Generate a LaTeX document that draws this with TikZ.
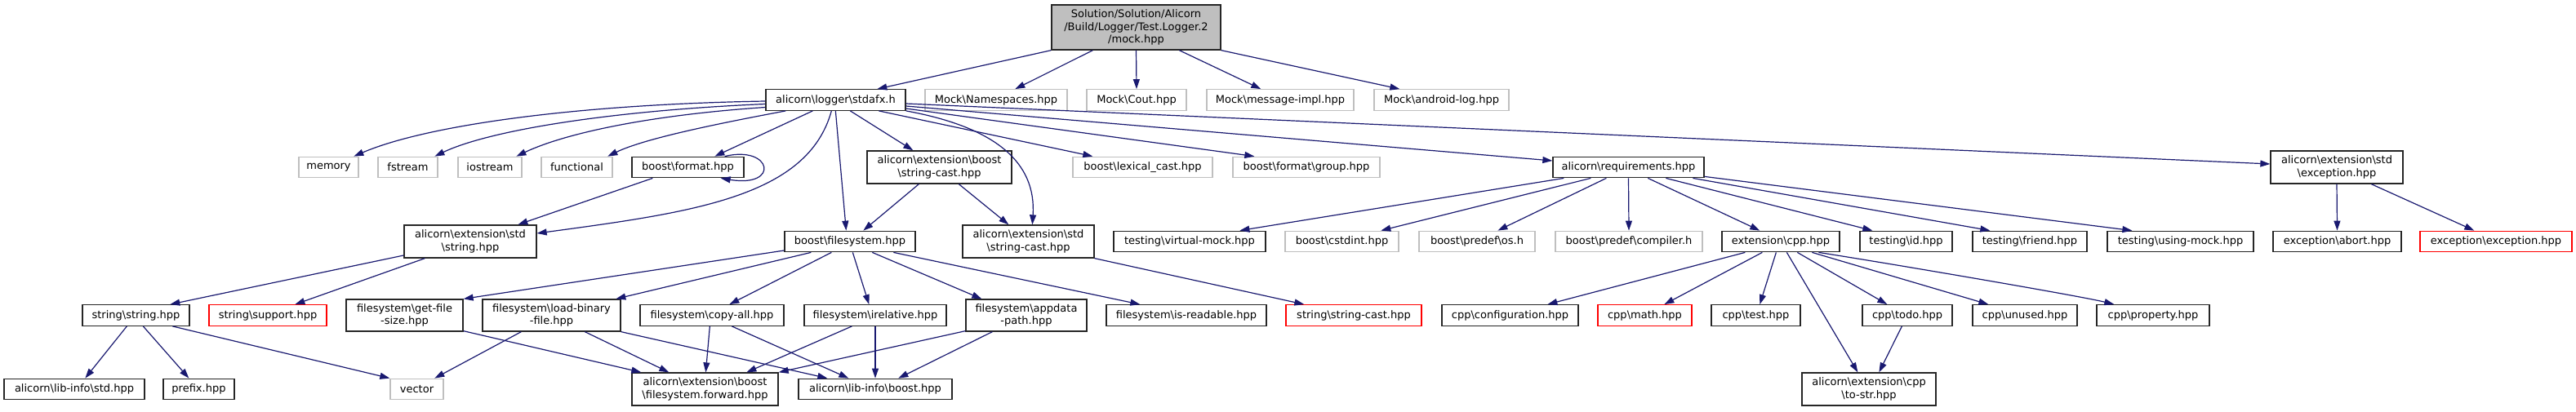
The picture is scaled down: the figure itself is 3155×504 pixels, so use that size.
\documentclass[tikz,border=0pt]{standalone}
\usepackage{fontspec}
\setmainfont{DejaVu Sans}
\usetikzlibrary{arrows.meta}
\definecolor{navy}{HTML}{191970}
\definecolor{boxgray}{HTML}{BFBFBF}
\definecolor{boxred}{HTML}{FF0000}
\newcommand\bsl{\textbackslash}
\newcommand\gfont{\fontsize{13}{15.3}\selectfont}
\tikzset{
  box/.style={draw=black!85, line width=1.3pt, inner sep=0pt, align=center, font=\gfont, minimum height=25.5pt},
  tbox/.style={box, minimum height=40pt},
  gbox/.style={box, draw=boxgray},
  rbox/.style={box, draw=boxred},
  edge/.style={draw=navy, line width=1.2pt, -{Triangle[length=12pt,width=8pt]}},
}
\begin{document}
\begin{tikzpicture}[x=1pt,y=-1pt]
\fill[white] (0,0) rectangle (3155,504);
\useasboundingbox (0,0) rectangle (3155,504);
% row A
\node[box, fill=boxgray, minimum width=207pt, minimum height=55pt] (root) at (1391.5,33.5) {Solution/Solution/Alicorn\\/Build/Logger/Test.Logger.2\\/mock.hpp};
% row B
\node[box, minimum width=171pt] (stdafx) at (1023.5,122.5) {alicorn\bsl logger\bsl stdafx.h};
\node[gbox, minimum width=174pt] (ns) at (1220,122.5) {Mock\bsl Namespaces.hpp};
\node[gbox, minimum width=122pt] (cout) at (1392,122.5) {Mock\bsl Cout.hpp};
\node[gbox, minimum width=180pt] (msg) at (1568,122.5) {Mock\bsl message-impl.hpp};
\node[gbox, minimum width=165pt] (andr) at (1765.5,122.5) {Mock\bsl android-log.hpp};
% row C
\node[gbox, minimum width=73pt] (memory) at (402.5,205) {memory};
\node[gbox, minimum width=73pt] (fstream) at (499.5,205) {fstream};
\node[gbox, minimum width=78pt] (iostream) at (600,205) {iostream};
\node[gbox, minimum width=87pt] (functional) at (706.5,205) {functional};
\node[box, minimum width=137pt] (bformat) at (842.5,205) {boost\bsl format.hpp};
\node[tbox, minimum width=177pt] (bsc) at (1150.5,205) {alicorn\bsl extension\bsl boost\\ \bsl string-cast.hpp};
\node[gbox, minimum width=171pt] (lexical) at (1399.5,205) {boost\bsl lexical\_cast.hpp};
\node[gbox, minimum width=180pt] (group) at (1600,205) {boost\bsl format\bsl group.hpp};
\node[box, minimum width=185pt] (req) at (1994.5,205) {alicorn\bsl requirements.hpp};
\node[tbox, minimum width=162pt] (stdexc) at (2862,205) {alicorn\bsl extension\bsl std\\ \bsl exception.hpp};
% row D
\node[tbox, minimum width=162pt] (stdstring) at (576,296) {alicorn\bsl extension\bsl std\\ \bsl string.hpp};
\node[box, minimum width=160pt] (bfs) at (1041,296) {boost\bsl filesystem.hpp};
\node[tbox, minimum width=161pt] (stdsc) at (1259.5,296) {alicorn\bsl extension\bsl std\\ \bsl string-cast.hpp};
\node[box, minimum width=186pt] (vmock) at (1457,296) {testing\bsl virtual-mock.hpp};
\node[gbox, minimum width=139pt] (cstdint) at (1643.5,296) {boost\bsl cstdint.hpp};
\node[gbox, minimum width=142pt] (os) at (1809,296) {boost\bsl predef\bsl os.h};
\node[gbox, minimum width=180pt] (compiler) at (1995,296) {boost\bsl predef\bsl compiler.h};
\node[box, minimum width=144pt] (extcpp) at (2181,296) {extension\bsl cpp.hpp};
\node[box, minimum width=113pt] (tid) at (2334.5,296) {testing\bsl id.hpp};
\node[box, minimum width=140pt] (friend) at (2486,296) {testing\bsl friend.hpp};
\node[box, minimum width=179pt] (usingmock) at (2670.5,296) {testing\bsl using-mock.hpp};
\node[box, minimum width=157pt] (abort) at (2862.5,296) {exception\bsl abort.hpp};
\node[rbox, minimum width=186pt] (exc) at (3057,296) {exception\bsl exception.hpp};
% row E
\node[box, minimum width=131pt] (sstring) at (166.5,386.5) {string\bsl string.hpp};
\node[rbox, minimum width=144pt] (support) at (328,386.5) {string\bsl support.hpp};
\node[tbox, minimum width=143pt, minimum height=39pt] (getfs) at (495.5,386.5) {filesystem\bsl get-file\\-size.hpp};
\node[tbox, minimum width=169pt, minimum height=39pt] (loadbin) at (675.5,386.5) {filesystem\bsl load-binary\\-file.hpp};
\node[box, minimum width=176pt] (copyall) at (872,386.5) {filesystem\bsl copy-all.hpp};
\node[box, minimum width=174pt] (relative) at (1072,386.5) {filesystem\bsl irelative.hpp};
\node[tbox, minimum width=148pt, minimum height=39pt] (appdata) at (1257,386.5) {filesystem\bsl appdata\\-path.hpp};
\node[box, minimum width=196pt] (isread) at (1453,386.5) {filesystem\bsl is-readable.hpp};
\node[rbox, minimum width=166pt] (ssc) at (1658,386.5) {string\bsl string-cast.hpp};
\node[box, minimum width=167pt] (config) at (1849.5,386.5) {cpp\bsl configuration.hpp};
\node[rbox, minimum width=115pt] (math) at (2014.5,386.5) {cpp\bsl math.hpp};
\node[box, minimum width=109pt] (test) at (2150.5,386.5) {cpp\bsl test.hpp};
\node[box, minimum width=110pt] (todo) at (2336,386.5) {cpp\bsl todo.hpp};
\node[box, minimum width=128pt] (unused) at (2480,386.5) {cpp\bsl unused.hpp};
\node[box, minimum width=138pt] (prop) at (2637,386.5) {cpp\bsl property.hpp};
% row F
\node[box, minimum width=172pt] (libstd) at (91,477) {alicorn\bsl lib-info\bsl std.hpp};
\node[box, minimum width=87pt] (prefix) at (243.5,477) {prefix.hpp};
\node[gbox, minimum width=65pt] (vector) at (510.5,477) {vector};
\node[tbox, minimum width=179pt] (fsfwd) at (863.5,477) {alicorn\bsl extension\bsl boost\\ \bsl filesystem.forward.hpp};
\node[box, minimum width=188pt] (libboost) at (1072,477) {alicorn\bsl lib-info\bsl boost.hpp};
\node[tbox, minimum width=164pt] (tostr) at (2289,477) {alicorn\bsl extension\bsl cpp\\ \bsl to-str.hpp};

% root edges
\draw[edge] (root.south west) -- ([xshift=137pt]stdafx.north west);
\draw[edge] ([xshift=51pt]root.south west) -- ([xshift=111pt]ns.north west);
\draw[edge] (root.south) -- (cout.north);
\draw[edge] ([xshift=157pt]root.south west) -- ([xshift=67pt]msg.north west);
\draw[edge] (root.south east) -- ([xshift=32pt]andr.north west);
% stdafx edges
\draw[edge] ([yshift=-1.5pt]stdafx.west) .. controls +(-238,4) and +(86,-37) .. ([xshift=68pt]memory.north west);
\draw[edge] ([yshift=-5pt]stdafx.west) .. controls +(-188,8) and +(67,-32) .. ([xshift=70pt]fstream.north west);
\draw[edge] ([yshift=-9pt]stdafx.west) .. controls +(-148,10) and +(57,-27) .. ([xshift=72pt]iostream.north west);
\draw[edge] ([xshift=25pt]stdafx.south west) .. controls +(-80,15) and +(45,-22) .. ([xshift=82pt]functional.north west);
\draw[edge] ([xshift=58pt]stdafx.south west) -- ([xshift=102pt]bformat.north west);
\draw[edge] ([xshift=81pt]stdafx.south west) .. controls +(-29,105) and +(193,-26) .. ([yshift=10pt]stdstring.east);
\draw[edge] ([xshift=104pt]stdafx.south west) -- ([xshift=57pt]bsc.north west);
\draw[edge] ([xshift=86pt]stdafx.south west) -- ([xshift=76pt]bfs.north west);
\draw[edge] (stdafx.south east) .. controls +(110,20) and +(5,-76) .. ([xshift=86pt]stdsc.north west);
\draw[edge] ([xshift=139pt]stdafx.south west) -- ([xshift=25pt]lexical.north west);
\draw[edge] ([yshift=-10.5pt]stdafx.east) -- ([xshift=27pt]group.north west);
\draw[edge] ([yshift=-7.5pt]stdafx.east) -- ([yshift=8pt]req.west);
\draw[edge] ([yshift=-4.5pt]stdafx.east) -- ([yshift=4pt]stdexc.west);
% boost format
\draw[edge] ([xshift=-24pt]bformat.north east) .. controls +(58,-14) and +(73,12) .. ([xshift=-29pt]bformat.south east);
\draw[edge] ([xshift=26pt]bformat.south west) -- ([xshift=140pt]stdstring.north west);
% boost string-cast
\draw[edge] ([xshift=64pt]bsc.south west) -- ([xshift=97pt]bfs.north west);
\draw[edge] ([xshift=113pt]bsc.south west) -- ([xshift=57pt]stdsc.north west);
% std string
\draw[edge] ([yshift=-17pt]stdstring.west) -- ([xshift=108pt]sstring.north west);
\draw[edge] ([xshift=26pt]stdstring.south west) -- ([xshift=106pt]support.north west);
% boost filesystem
\draw[edge] ([yshift=-11pt]bfs.west) -- (getfs.north east);
\draw[edge] ([xshift=33pt]bfs.south west) -- ([xshift=164pt]loadbin.north west);
\draw[edge] ([xshift=58pt]bfs.south west) -- ([xshift=110pt]copyall.north west);
\draw[edge] ([xshift=84pt]bfs.south west) -- ([xshift=80pt]relative.north west);
\draw[edge] ([xshift=108pt]bfs.south west) -- ([xshift=20pt]appdata.north west);
\draw[edge] ([xshift=134pt]bfs.south west) -- ([xshift=42pt]isread.north west);
% std string-cast
\draw[edge] (stdsc.south east) -- ([xshift=23pt]ssc.north west);
% requirements
\draw[edge] ([xshift=14pt]req.south west) -- ([xshift=155pt]vmock.north west);
\draw[edge] ([xshift=47pt]req.south west) -- ([xshift=118pt]cstdint.north west);
\draw[edge] ([xshift=66pt]req.south west) -- ([xshift=97pt]os.north west);
\draw[edge] (req.south) -- (compiler.north);
\draw[edge] ([xshift=117pt]req.south west) -- ([xshift=47pt]extcpp.north west);
\draw[edge] ([xshift=139pt]req.south west) -- ([xshift=16pt]tid.north west);
\draw[edge] ([xshift=172pt]req.south west) -- ([xshift=22pt]friend.north west);
\draw[edge] ([yshift=2pt]req.south east) -- ([xshift=31pt]usingmock.north west);
% std exception
\draw[edge] (stdexc.south) -- (abort.north);
\draw[edge] ([xshift=124pt]stdexc.south west) -- ([xshift=67pt]exc.north west);
% extension cpp
\draw[edge] ([xshift=29pt]extcpp.south west) -- ([xshift=130pt]config.north west);
\draw[edge] ([xshift=50pt]extcpp.south west) -- ([xshift=82pt]math.north west);
\draw[edge] ([xshift=67pt]extcpp.south west) -- ([xshift=60pt]test.north west);
\draw[edge] ([xshift=80pt]extcpp.south west) -- ([xshift=69pt]tostr.north west);
\draw[edge] ([xshift=93pt]extcpp.south west) -- ([xshift=31pt]todo.north west);
\draw[edge] ([xshift=111pt]extcpp.south west) -- ([xshift=20pt]unused.north west);
\draw[edge] ([xshift=119pt]extcpp.south west) .. controls +(90,14) and +(-40,-10) .. ([xshift=22pt]prop.north west);
\draw[edge] ([xshift=49pt]todo.south west) -- ([xshift=95pt]tostr.north west);
% string string
\draw[edge] ([xshift=55pt]sstring.south west) -- ([xshift=100pt]libstd.north west);
\draw[edge] ([xshift=75pt]sstring.south west) -- ([xshift=32pt]prefix.north west);
\draw[edge] ([xshift=111pt]sstring.south west) -- (vector.north west);
% filesystem row
\draw[edge] ([yshift=1pt]getfs.south east) -- ([xshift=12pt]fsfwd.north west);
\draw[edge] ([xshift=48pt]loadbin.south west) -- ([xshift=55pt]vector.north west);
\draw[edge] ([xshift=126pt]loadbin.south west) -- ([xshift=46pt]fsfwd.north west);
\draw[edge] (loadbin.south east) -- ([xshift=36pt]libboost.north west);
\draw[edge] ([xshift=86pt]copyall.south west) -- ([xshift=91pt]fsfwd.north west);
\draw[edge] ([xshift=113pt]copyall.south west) -- ([xshift=62pt]libboost.north west);
\draw[edge] ([xshift=59pt]relative.south west) -- ([xshift=141pt]fsfwd.north west);
\draw[edge] (relative.south) -- (libboost.north);
\draw[edge] ([yshift=1pt]appdata.south west) -- (fsfwd.north east);
\draw[edge] ([xshift=33pt]appdata.south west) -- ([xshift=123pt]libboost.north west);
\end{tikzpicture}
\end{document}
